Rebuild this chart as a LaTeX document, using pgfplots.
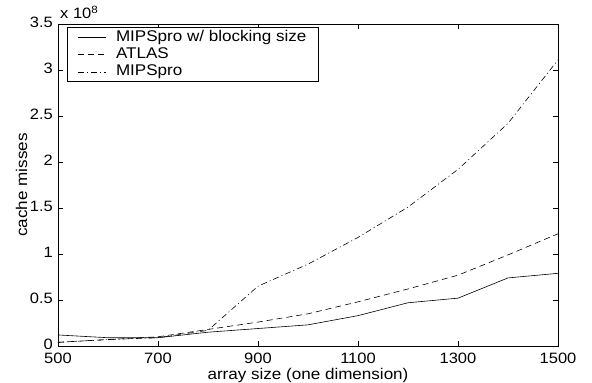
\documentclass[border=0pt]{standalone}
\usepackage{fontspec}
\setmainfont[FakeStretch=1.1]{Liberation Sans}
\usepackage{pgfplots}
\pgfplotsset{compat=1.18}
\begin{document}
\begin{tikzpicture}
\begin{axis}[
  at={(0,0)}, anchor=south west,
  scale only axis,
  width=500bp, height=322bp,
  xmin=500, xmax=1500, ymin=0, ymax=3.5,
  xtick={500,700,...,1500},
  ytick={0,0.5,...,3.5},
  tick align=inside,
  major tick length=5bp,
  axis line style={line width=0.9bp},
  every tick/.style={line width=0.6bp, black},
  /pgf/number format/assume math mode=true,
  /pgf/number format/fixed,
  /pgf/number format/1000 sep={},
  tick label style={font=\fontsize{15bp}{16bp}\selectfont, inner sep=1bp},
  label style={font=\fontsize{15.5bp}{17bp}\selectfont},
  xlabel={array size (one dimension)},
  ylabel={cache misses},
  xlabel style={yshift=0bp},
  ylabel style={yshift=-2bp},
  xticklabel style={yshift=-6bp},
  yticklabel style={xshift=-4bp, yshift=1.5bp},
  legend cell align=left,
  legend style={at={(rel axis cs:0,1)}, anchor=north west, xshift=9bp, yshift=-3bp,
    draw=black, line width=0.8bp, font=\fontsize{15.5bp}{17bp}\selectfont,
    inner xsep=10bp, inner ysep=1.5bp, row sep=0.6bp, column sep=8bp,
    nodes={inner xsep=2bp, inner ysep=0bp, text height=12.5bp, text depth=4.2bp}},
  legend image code/.code={\draw[#1] (0bp,0bp) -- (28bp,0bp);},
  clip=false,
]
\addplot[black, line width=0.6bp] coordinates {
(500,0.12) (600,0.09) (700,0.09) (800,0.15) (900,0.19) (1000,0.23)
(1100,0.33) (1200,0.47) (1300,0.52) (1400,0.74) (1500,0.79)};
\addlegendentry{MIPSpro w/ blocking size}
\addplot[black, line width=0.6bp, dash pattern=on 6bp off 4bp] coordinates {
(500,0.04) (600,0.07) (700,0.10) (800,0.18) (900,0.26) (1000,0.35)
(1100,0.48) (1200,0.62) (1300,0.77) (1400,0.99) (1500,1.22)};
\addlegendentry{ATLAS}
\addplot[black, line width=0.6bp, dash pattern=on 6bp off 3bp on 1bp off 3bp] coordinates {
(500,0.04) (600,0.07) (700,0.09) (800,0.17) (900,0.65) (1000,0.89)
(1100,1.18) (1200,1.51) (1300,1.92) (1400,2.42) (1500,3.11)};
\addlegendentry{MIPSpro}
\node[anchor=south west, inner sep=0pt, font=\fontsize{15bp}{16bp}\selectfont] at (rel axis cs:0,1) [yshift=5bp, xshift=2bp] {x 10\textsuperscript{8}};
\end{axis}
\pgfresetboundingbox
\path (-58bp,-37bp) rectangle (534bp,346bp);
\end{tikzpicture}
\end{document}
